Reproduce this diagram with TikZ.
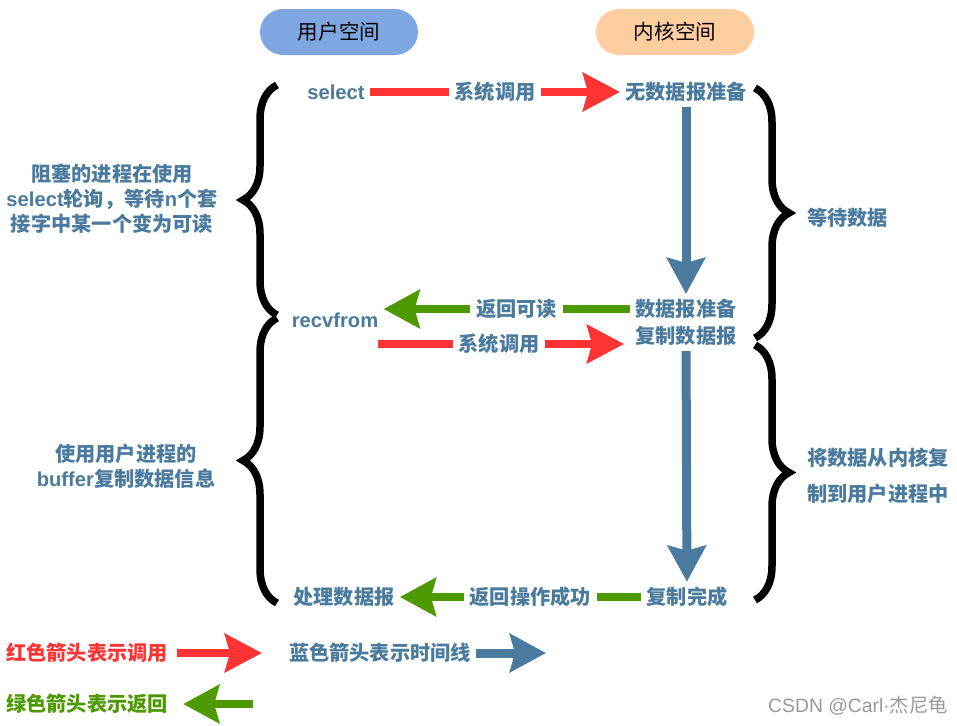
\documentclass[tikz,border=0pt]{standalone}
\usepackage{fontspec}
\setmainfont{Liberation Sans}
\newfontfamily\cjk{Noto Sans CJK SC}
\newfontfamily\lat{Liberation Sans}
\usetikzlibrary{arrows.meta, decorations.pathreplacing}

\begin{document}
\begin{tikzpicture}[x=0.02cm, y=-0.02cm]
    % Colors
    \definecolor{userblue}{HTML}{7EA6E0}
    \definecolor{kernelpeach}{HTML}{FFCE9F}
    \definecolor{labelblue}{HTML}{4A7A9D}
    \definecolor{callred}{HTML}{FF3333}
    \definecolor{retgreen}{HTML}{4D9900}

    % Dimensions
    \def\userx{336}
    \def\kernx{686}

    % Styles
    \tikzset{
      spacebox/.style={rounded corners=0.46cm, minimum width=3.16cm, minimum height=0.92cm,
        font=\cjk\fontsize{11.7}{14}\selectfont},
      lbl/.style={text=labelblue, inner sep=0.1cm, font=\cjk\bfseries\fontsize{11.5}{14.2}\selectfont},
      arrowlbl/.style={lbl, fill=white, inner xsep=0.12cm, inner ysep=0.05cm},
      callarrow/.style={draw=callred, line width=0.16cm, -{Stealth[length=0.74cm, width=0.76cm, inset=0.1cm]}},
      retarrow/.style={draw=retgreen, line width=0.16cm, -{Stealth[length=0.72cm, width=0.76cm, inset=0.1cm]}},
      timearrow/.style={draw=labelblue, line width=0.18cm, -{Stealth[length=0.72cm, width=0.76cm, inset=0.1cm]}},
      bracket/.style={decorate, decoration={brace, amplitude=0.68cm}, line width=0.15cm},
    }

    \useasboundingbox (0,0) rectangle (957,725);

    % Header
    \node[spacebox, fill=userblue] (user) at (339,32) {用户空间};
    \node[spacebox, fill=kernelpeach] (kernel) at (675,32) {内核空间};

    % Steps
    \node[lbl] (select) at (\userx,92) {{\lat select}};
    \node[lbl] (nodata) at (\kernx,92) {无数据报准备};
    \node[lbl] (ready) at (\kernx,309) {数据报准备};
    \node[lbl] (copy) at (\kernx,336) {复制数据报};
    \node[lbl] (recvfrom) at (335,320) {{\lat recvfrom}};
    \coordinate (recvcall) at (378,344);
    \node[lbl] (done) at (687,597) {复制完成};
    \node[lbl] (handle) at (344,597) {处理数据报};

    % Calls and returns
    \draw[callarrow] (select) -- node[arrowlbl] {系统调用} (nodata);
    \draw[timearrow] (nodata) -- (ready);
    \draw[retarrow] (ready.west) -- node[arrowlbl, pos=0.46] {返回可读} (ready.west -| recvfrom.east);
    \draw[callarrow, shorten >=0.12cm] (recvcall) -- node[arrowlbl, pos=0.48] {系统调用} (recvcall -| copy.west);
    \draw[timearrow] (copy) -- (done);
    \draw[retarrow] (done) -- node[arrowlbl, pos=0.46] {返回操作成功} (handle);

    % Braces
    \draw[bracket] (277,315) -- (277,85);
    \draw[bracket] (277,603) -- (277,318);
    \draw[bracket] (755,88) -- (755,338);
    \draw[bracket] (755,345) -- (755,600);

    % Brace notes
    \node[lbl, align=center] (blocknote) at (112,199)
      {阻塞的进程在使用\\{\lat select}轮询，等待{\lat n}个套\\接字中某一个变为可读};
    \node[lbl, align=center] (buffernote) at (126,466)
      {使用用户进程的\\{\lat buffer}复制数据信息};
    \node[lbl, anchor=west] (waitnote) at (802,218) {等待数据};
    \node[lbl, anchor=west, align=left, font=\cjk\bfseries\fontsize{11.5}{20.5}\selectfont] (copynote) at (802,476)
      {将数据从内核复\\制到用户进程中};

    % Legend
    \node[lbl, text=callred] (legcall) at (87,653) {红色箭头表示调用};
    \coordinate (legcallend) at (262,653);
    \draw[callarrow, shorten <=0.08cm] (legcall) -- (legcallend);
    \node[lbl] (legtime) at (380,653) {蓝色箭头表示时间线};
    \coordinate (legtimeend) at (546,653);
    \draw[timearrow] (legtime) -- (legtimeend);
    \node[lbl, text=retgreen] (legret) at (87,704) {绿色箭头表示返回};
    \coordinate (legretstart) at (253,704);
    \draw[retarrow, shorten >=0.2cm] (legretstart) -- (legret);

    % Watermark
    \node[text=black!40, font=\cjk\fontsize{11}{13}\selectfont] (mark) at (858,706) {{\lat CSDN @Carl·}杰尼龟};
\end{tikzpicture}
\end{document}
